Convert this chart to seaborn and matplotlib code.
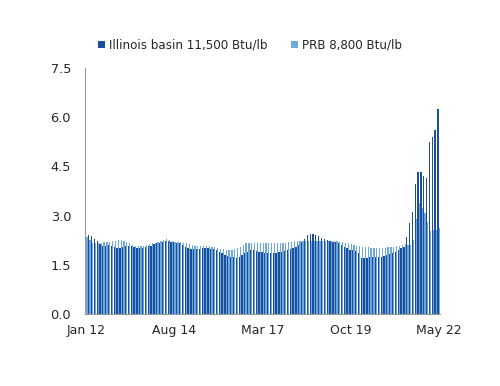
import numpy as np
import pandas as pd
import seaborn as sns
import matplotlib.pyplot as plt

# monthly prices, Jan 2012 .. May 2022
illinois = [
    2.48, 2.42, 2.38, 2.30, 2.22, 2.12, 2.08, 2.08, 2.10, 2.08, 2.05, 2.02,
    2.02, 2.05, 2.08, 2.08, 2.07, 2.05, 2.02, 2.02, 2.02, 2.04, 2.06, 2.08,
    2.12, 2.15, 2.18, 2.20, 2.22, 2.22, 2.20, 2.20, 2.18, 2.15, 2.10, 2.05,
    2.00, 1.98, 1.98, 1.98, 1.98, 2.00, 2.00, 2.00, 1.98, 1.98, 1.95, 1.90,
    1.85, 1.80, 1.78, 1.75, 1.73, 1.72, 1.75, 1.80, 1.85, 1.90, 1.95, 1.95,
    1.92, 1.90, 1.88, 1.87, 1.85, 1.85, 1.85, 1.85, 1.88, 1.90, 1.92, 1.95,
    1.98, 2.00, 2.05, 2.10, 2.20, 2.30, 2.40, 2.45, 2.45, 2.42, 2.38, 2.32,
    2.28, 2.25, 2.22, 2.20, 2.20, 2.15, 2.10, 2.05, 2.00, 1.95, 1.95, 1.92,
    1.85, 1.72, 1.70, 1.72, 1.75, 1.75, 1.75, 1.75, 1.75, 1.78, 1.80, 1.82,
    1.85, 1.90, 1.95, 2.00, 2.05, 2.35, 2.77, 3.10, 3.96, 4.33, 4.33, 4.20,
    4.15, 5.24, 5.40, 5.60, 6.25,
]
prb = [
    2.34, 2.25, 2.18, 2.15, 2.15, 2.18, 2.20, 2.20, 2.20, 2.22, 2.22, 2.25,
    2.25, 2.22, 2.20, 2.15, 2.10, 2.08, 2.07, 2.07, 2.08, 2.10, 2.12, 2.15,
    2.18, 2.20, 2.22, 2.25, 2.28, 2.25, 2.22, 2.20, 2.20, 2.20, 2.18, 2.15,
    2.12, 2.10, 2.08, 2.07, 2.07, 2.07, 2.07, 2.07, 2.05, 2.03, 2.00, 1.98,
    1.97, 1.95, 1.95, 1.95, 1.97, 2.00, 2.05, 2.10, 2.15, 2.17, 2.18, 2.18,
    2.18, 2.18, 2.18, 2.17, 2.16, 2.15, 2.15, 2.15, 2.16, 2.17, 2.18, 2.20,
    2.20, 2.22, 2.22, 2.22, 2.22, 2.22, 2.22, 2.22, 2.22, 2.22, 2.22, 2.22,
    2.22, 2.22, 2.22, 2.22, 2.22, 2.20, 2.20, 2.18, 2.15, 2.12, 2.10, 2.08,
    2.06, 2.05, 2.04, 2.03, 2.02, 2.02, 2.02, 2.02, 2.02, 2.02, 2.03, 2.04,
    2.05, 2.06, 2.08, 2.10, 2.12, 2.10, 2.10, 2.26, 2.90, 3.39, 3.23, 3.08,
    2.80, 2.53, 2.56, 2.56, 2.62,
]
series_names = ["Illinois basin 11,500 Btu/lb", "PRB 8,800 Btu/lb"]
colors = ["#1B4F9C", "#6FA8DC"]
tick_labels = ["Jan 12", "Aug 14", "Mar 17", "Oct 19", "May 22"]
yticks = [0.0, 1.5, 3.0, 4.5, 6.0, 7.5]

n = len(illinois)
df = pd.DataFrame({
    "month": list(range(n)) * 2,
    "price": illinois + prb,
    "series": [series_names[0]] * n + [series_names[1]] * n,
})

sns.set_style("white")
plt.rcParams["font.family"] = ["DejaVu Sans"]

fig = plt.figure(figsize=(5, 3.86), dpi=100)
ax = fig.add_axes([0.17, 0.1865, 0.71, 0.6373])

sns.barplot(data=df, x="month", y="price", hue="series", hue_order=series_names,
            palette=colors, width=0.9, linewidth=0, saturation=1, ax=ax,
            errorbar=None)

ax.set_xlim(-0.5, n - 0.5)
ax.set_ylim(0, 7.5)
ax.set_yticks(yticks)
ax.set_yticklabels([f"{v:.1f}" for v in yticks], fontsize=9.3)

# month ticks, labels every 31 months
ax.set_xticks(range(n))
ax.set_xticklabels([tick_labels[i // 31] if i % 31 == 0 else "" for i in range(n)],
                   fontsize=9)
ax.tick_params(axis="x", length=3, width=0.6, color="#888888", pad=4)
ax.tick_params(axis="y", length=4, width=0.8, color="#888888", pad=6)
ax.set_xlabel("")
ax.set_ylabel("")

for s in ["top", "right"]:
    ax.spines[s].set_visible(False)
for s in ["left", "bottom"]:
    ax.spines[s].set_color("#999999")
    ax.spines[s].set_linewidth(0.8)

handles, labels = ax.get_legend_handles_labels()
ax.legend_.remove()
fig.legend(handles, labels, loc="center", bbox_to_anchor=(0.5, 0.883), ncol=2,
           frameon=False, fontsize=8.6, handlelength=0.6, handleheight=0.6,
           handletextpad=0.3, columnspacing=2.0)

plt.savefig("out.png", dpi=100)
